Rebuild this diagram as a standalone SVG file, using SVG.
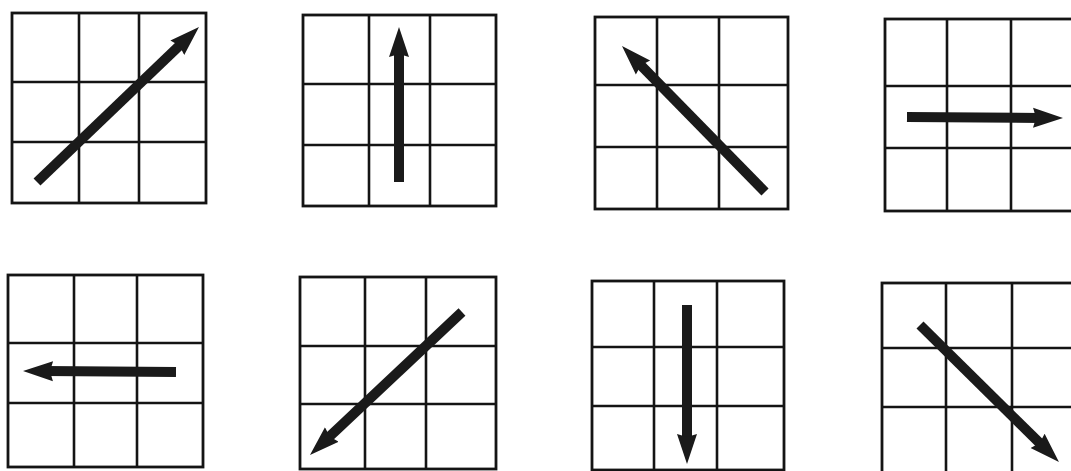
<svg xmlns="http://www.w3.org/2000/svg" width="1071" height="471" viewBox="0 0 1071 471">
<style>
.frame{fill:none;stroke:#141414;stroke-width:2.8}
.grid{stroke:#141414;stroke-width:2.6}
.arrow{stroke:#1a1a1a;stroke-width:10;stroke-linecap:butt;fill:none;marker-end:url(#head)}
</style>
<defs>
<marker id="head" markerUnits="userSpaceOnUse" viewBox="0 0 30 22" markerWidth="30" markerHeight="22" refX="8" refY="11" orient="auto">
<path d="M0,1 L30,11 L0,21 L3,11 z" fill="#1a1a1a"/>
</marker>
</defs>
<rect width="1071" height="471" fill="#ffffff"/>
<g id="grid1">
<rect class="frame" x="12" y="13" width="194" height="190"/>
<line class="grid" x1="79" y1="13" x2="79" y2="203"/><line class="grid" x1="139" y1="13" x2="139" y2="203"/>
<line class="grid" x1="12" y1="82" x2="206" y2="82"/><line class="grid" x1="12" y1="142" x2="206" y2="142"/>
</g>
<g id="grid2">
<rect class="frame" x="303" y="15" width="193" height="191"/>
<line class="grid" x1="369" y1="15" x2="369" y2="206"/><line class="grid" x1="430" y1="15" x2="430" y2="206"/>
<line class="grid" x1="303" y1="84" x2="496" y2="84"/><line class="grid" x1="303" y1="145" x2="496" y2="145"/>
</g>
<g id="grid3">
<rect class="frame" x="595" y="17" width="193" height="192"/>
<line class="grid" x1="657" y1="17" x2="657" y2="209"/><line class="grid" x1="719" y1="17" x2="719" y2="209"/>
<line class="grid" x1="595" y1="85" x2="788" y2="85"/><line class="grid" x1="595" y1="147" x2="788" y2="147"/>
</g>
<g id="grid4">
<rect class="frame" x="885" y="19" width="195" height="192"/>
<line class="grid" x1="947" y1="19" x2="947" y2="211"/><line class="grid" x1="1011" y1="19" x2="1011" y2="211"/>
<line class="grid" x1="885" y1="86" x2="1080" y2="86"/><line class="grid" x1="885" y1="148" x2="1080" y2="148"/>
</g>
<g id="grid5">
<rect class="frame" x="8" y="275" width="195" height="192"/>
<line class="grid" x1="74" y1="275" x2="74" y2="467"/><line class="grid" x1="137" y1="275" x2="137" y2="467"/>
<line class="grid" x1="8" y1="343" x2="203" y2="343"/><line class="grid" x1="8" y1="403" x2="203" y2="403"/>
</g>
<g id="grid6">
<rect class="frame" x="300" y="277" width="196" height="192"/>
<line class="grid" x1="365" y1="277" x2="365" y2="469"/><line class="grid" x1="426" y1="277" x2="426" y2="469"/>
<line class="grid" x1="300" y1="346" x2="496" y2="346"/><line class="grid" x1="300" y1="404" x2="496" y2="404"/>
</g>
<g id="grid7">
<rect class="frame" x="592" y="281" width="192" height="189"/>
<line class="grid" x1="654" y1="281" x2="654" y2="470"/><line class="grid" x1="717" y1="281" x2="717" y2="470"/>
<line class="grid" x1="592" y1="347" x2="784" y2="347"/><line class="grid" x1="592" y1="406" x2="784" y2="406"/>
</g>
<g id="grid8">
<rect class="frame" x="882" y="283" width="198" height="190"/>
<line class="grid" x1="946" y1="283" x2="946" y2="473"/><line class="grid" x1="1012" y1="283" x2="1012" y2="473"/>
<line class="grid" x1="882" y1="348" x2="1080" y2="348"/><line class="grid" x1="882" y1="407" x2="1080" y2="407"/>
</g>
<g id="connectors">
<line class="arrow" x1="37" y1="182" x2="183.1" y2="42.2"/>
<line class="arrow" x1="399" y1="182" x2="399" y2="49"/>
<line class="arrow" x1="765" y1="192" x2="637.4" y2="61.7"/>
<line class="arrow" x1="907" y1="117" x2="1041" y2="117.9"/>
<line class="arrow" x1="176" y1="372" x2="45" y2="371.1"/>
<line class="arrow" x1="462" y1="312" x2="326" y2="439.9"/>
<line class="arrow" x1="687" y1="305" x2="687" y2="442"/>
<line class="arrow" x1="920" y1="325" x2="1043.3" y2="446.6"/>
</g>
</svg>
